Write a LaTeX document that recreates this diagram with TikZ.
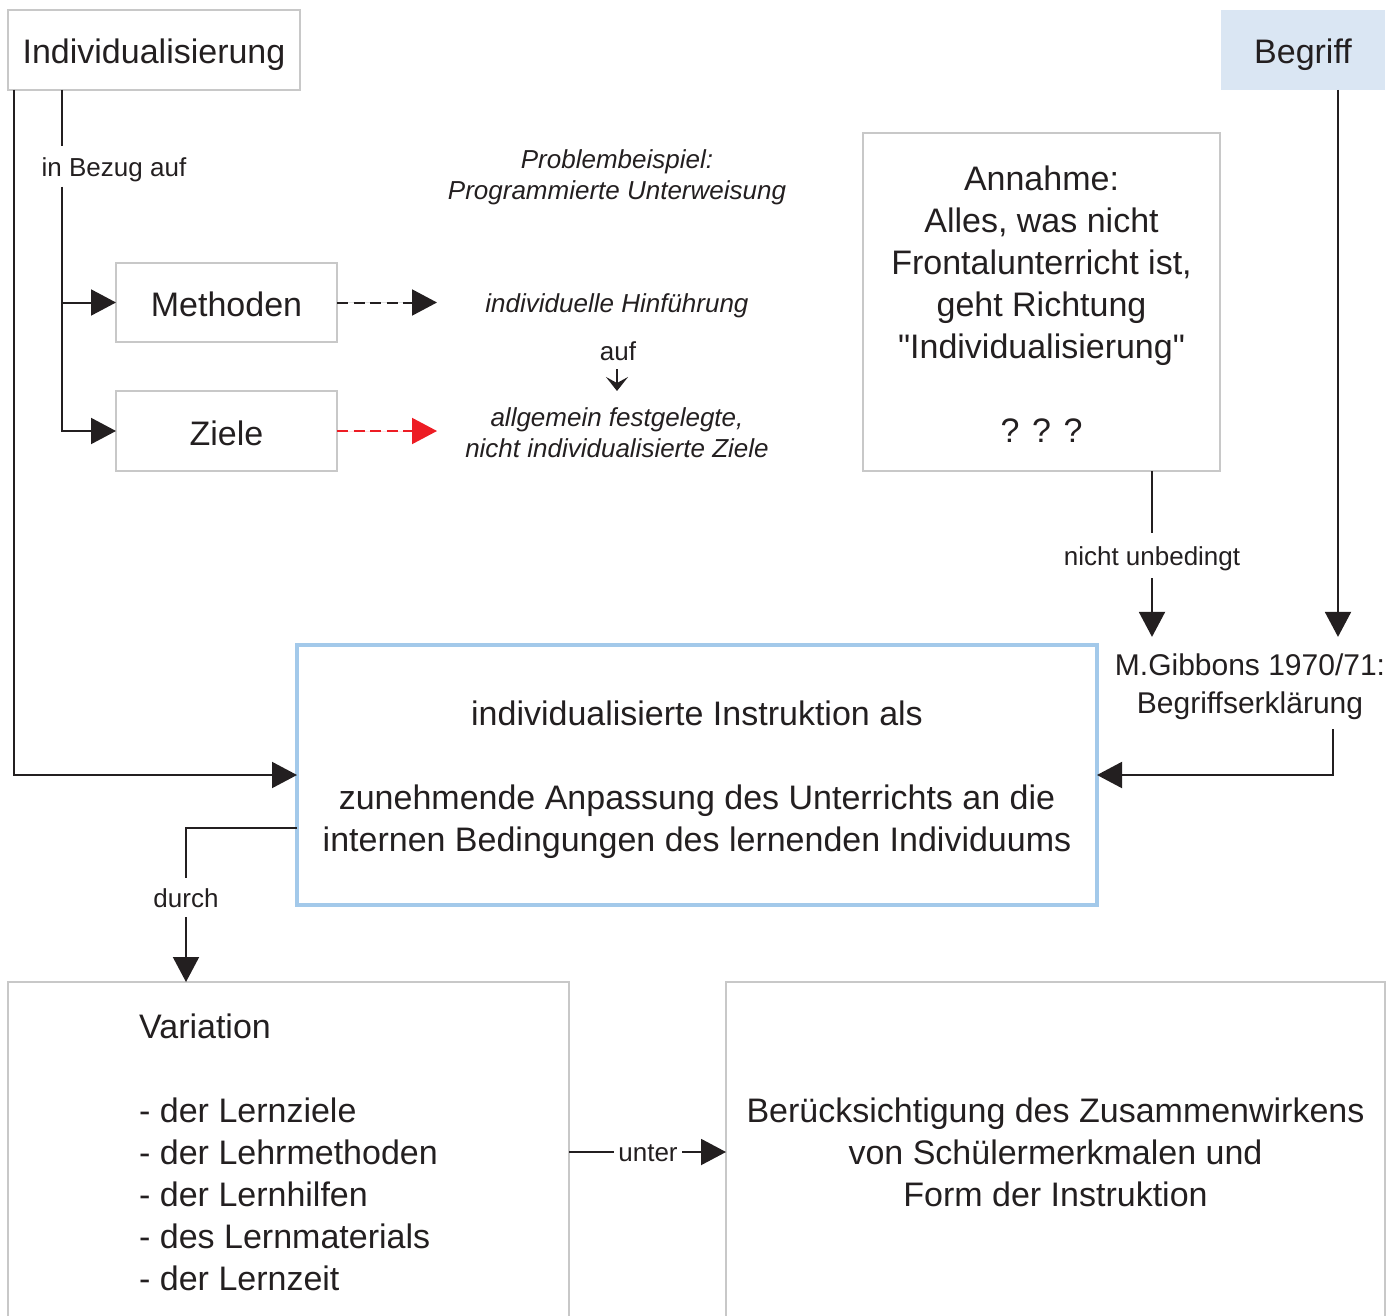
\documentclass[tikz,border=0pt]{standalone}
\usepackage{fontspec}
\setmainfont{Liberation Sans}[Ligatures=TeXOff]
\usetikzlibrary{arrows.meta}
\definecolor{ink}{HTML}{231F20}
\definecolor{boxgray}{HTML}{C8C8C8}
\definecolor{bluebord}{HTML}{A3C9EA}
\definecolor{bluefill}{HTML}{DAE6F3}
\definecolor{redarr}{HTML}{ED1C24}
\begin{document}
\begin{tikzpicture}[x=1pt,y=-1pt,
  big/.style={font=\fontsize{34}{42}\selectfont, text=ink},
  small/.style={font=\fontsize{26}{31}\selectfont, text=ink},
  ital/.style={font=\fontsize{26}{31}\selectfont\itshape, text=ink},
  mid/.style={font=\fontsize{30}{38}\selectfont, text=ink},
  graybox/.style={draw=boxgray, line width=2pt, inner sep=0pt, outer sep=0pt},
  onebox/.style={graybox, big, text height=28pt, text depth=0pt},
  conn/.style={draw=ink, line width=2pt},
  arr/.style={conn, -{Triangle[length=25pt,width=26pt]}},
  dasharr/.style={line width=2pt, dash pattern=on 11pt off 5.5pt, -{Triangle[length=25pt,width=26pt]}},
  lbl/.style={small, inner sep=0pt, outer sep=0pt, text height=25pt, text depth=5.5pt}
]
\useasboundingbox (0,0) rectangle (1398,1316);

% boxes
\node[onebox, minimum width=292pt, minimum height=80pt] (indiv) at (154,50) {Individualisierung};
\node[onebox, draw=none, fill=bluefill, minimum width=164pt, minimum height=80pt] (begriff) at (1303,50) {Begriff};
\node[onebox, minimum width=221pt, minimum height=79pt] (methoden) at (226.5,302.5) {Methoden};
\node[onebox, minimum width=221pt, minimum height=80pt] (ziele) at (226.5,431) {Ziele};
\node[graybox, big, align=center, minimum width=357pt, minimum height=338pt] (annahme) at (1041.5,302)
  {\rule{0pt}{28.5pt}Annahme:\\Alles, was nicht\\Frontalunterricht ist,\\geht Richtung\\"Individualisierung"\\[42pt]? ? ?};
\node[big, draw=bluebord, line width=4pt, inner sep=0pt, outer sep=0pt, align=center,
  minimum width=800pt, minimum height=260pt] (blue) at (697,775)
  {\rule{0pt}{34pt}individualisierte Instruktion als\\[42pt] zunehmende Anpassung des Unterrichts an die\\internen Bedingungen des lernenden Individuums};
\node[graybox, big, align=left, minimum width=561pt, minimum height=340pt] (variation) at (288.5,1152)
  {Variation\\[42pt]- der Lernziele\\- der Lehrmethoden\\- der Lernhilfen\\- des Lernmaterials\\- der Lernzeit};
\node[graybox, big, align=center, minimum width=659pt, minimum height=340pt] (beruecks) at (1055.5,1152)
  {Berücksichtigung des Zusammenwirkens\\von Schülermerkmalen und\\Form der Instruktion};

% free texts
\node[ital, align=center] (problem) at (617,177) {Problembeispiel:\\Programmierte Unterweisung};
\node[ital] (hinf) at (617,305.5) {individuelle Hinführung};
\node[small] (auf) at (618,351) {auf};
\node[ital, align=center] (allg) at (617,433) {allgemein festgelegte,\\nicht individualisierte Ziele};
\node[mid, align=center, inner xsep=0pt, inner ysep=9pt, outer sep=0pt] (gibbons) at (1250,683)
  {\rule{0pt}{30pt}M.Gibbons 1970/71:\\Begriffserklärung};

% connector labels
\node[lbl, minimum height=41pt] (bezug) at (114,166.5) {in Bezug auf};
\node[lbl, minimum height=45pt] (unbed) at (1152,555.5) {nicht unbedingt};
\node[lbl, minimum height=39pt] (durch) at (186,897.5) {durch};
\node[lbl, minimum width=68pt] (unter) at (648,1152) {unter};

% coordinates
\coordinate (L0) at ([xshift=6pt]indiv.south west);
\coordinate (b0) at ([xshift=54pt]indiv.south west);
\coordinate (mtip) at (437,302.5);
\coordinate (ztip) at (437,431);
\coordinate (auf1) at (617,369);
\coordinate (auf2) at (617,391);
\coordinate (a0) at ([xshift=110.5pt]annahme.south);
\coordinate (g0) at ([xshift=35pt]begriff.south);
\coordinate (g1) at ([xshift=83pt]gibbons.south);
\coordinate (d0) at ([yshift=-53pt]blue.west);

% connectors
\draw[arr] (L0) |- (blue.west);
\draw[conn] (b0) -- (b0 |- bezug.north);
\draw[arr] (b0 |- bezug.south) |- (methoden.west);
\draw[arr] (b0 |- bezug.south) |- (ziele.west);
\draw[dasharr, draw=ink, fill=ink] (methoden.east) -- (mtip);
\draw[dasharr, draw=redarr, fill=redarr] (ziele.east) -- (ztip);
\draw[conn, -{Stealth[length=14pt,width=22pt,inset=6pt]}] (auf1) -- (auf2);
\draw[conn] (a0) -- (a0 |- unbed.north);
\draw[arr] (a0 |- unbed.south) -- (a0 |- gibbons.north);
\draw[arr] (g0) -- (g0 |- gibbons.north);
\draw[arr] (g1) |- (blue.east);
\draw[conn] (d0) -| (durch.north);
\draw[arr] (durch.south) -- (durch.south |- variation.north);
\draw[conn] (variation.east |- unter.west) -- (unter.west);
\draw[arr] (unter.east) -- (beruecks.west);
\end{tikzpicture}
\end{document}
